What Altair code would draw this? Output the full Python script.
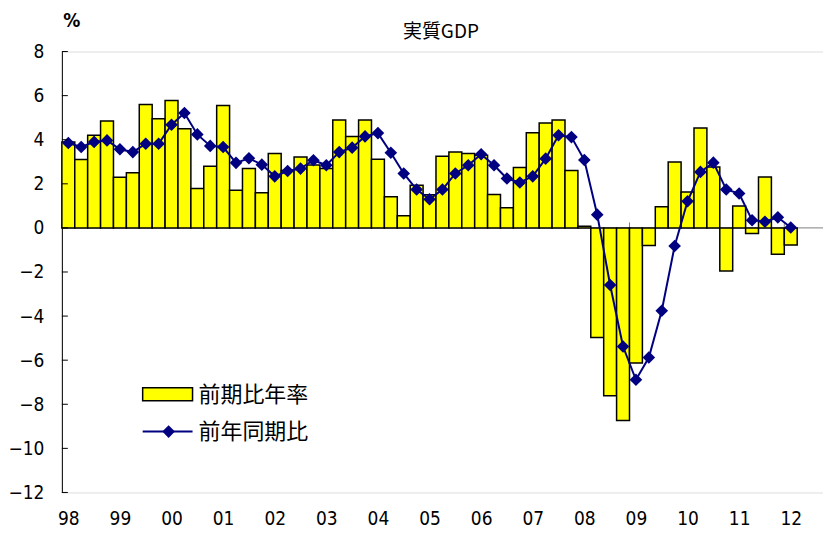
import altair as alt
import pandas as pd

# ---- data (quarterly, 1998Q1 .. 2012Q1) ----
year_labels = ["98", "99", "00", "01", "02", "03", "04", "05", "06", "07", "08", "09", "10", "11", "12"]

qoq_annualized = [
    3.9, 3.1, 4.2, 4.85,      # 98
    2.3, 2.5, 5.6, 4.95,      # 99
    5.78, 4.5, 1.79, 2.8,     # 00
    5.55, 1.71, 2.69, 1.6,    # 01
    3.37, 2.6, 3.22, 2.85,    # 02
    2.7, 4.9, 4.15, 4.9,      # 03
    3.11, 1.41, 0.55, 1.94,   # 04
    1.5, 3.25, 3.44, 3.37,    # 05
    3.3, 1.51, 0.91, 2.74,    # 06
    4.32, 4.76, 4.9, 2.6,     # 07
    0.08, -4.97, -7.61, -8.74,  # 08
    -6.13, -0.8, 0.96, 2.99,  # 09
    1.63, 4.53, 2.76, -1.95,  # 10
    0.99, -0.25, 2.31, -1.19,  # 11
    -0.78,                    # 12
]

yoy = [
    3.85, 3.67, 3.9, 3.97,
    3.57, 3.44, 3.82, 3.82,
    4.68, 5.21, 4.24, 3.72,
    3.67, 2.95, 3.16, 2.87,
    2.34, 2.58, 2.69, 3.07,
    2.84, 3.44, 3.64, 4.15,
    4.3, 3.41, 2.47, 1.74,
    1.3, 1.74, 2.47, 2.84,
    3.34, 2.84, 2.24, 2.06,
    2.34, 3.14, 4.2, 4.12,
    3.08, 0.6, -2.59, -5.38,
    -6.89, -5.88, -3.76, -0.82,
    1.21, 2.54, 2.96, 1.74,
    1.56, 0.35, 0.28, 0.48,
    0.02,
]

y_ticks = [-12, -10, -8, -6, -4, -2, 0, 2, 4, 6, 8]
legend_labels = ["前期比年率", "前年同期比"]
title_text = "実質GDP"
unit_text = "%"

NUM_FONT = "Liberation Sans Narrow, DejaVu Sans Condensed, Noto Sans CJK JP"
JP_FONT = "Noto Sans CJK JP"
NAVY = "#000080"

W, H = 763, 442

df = pd.DataFrame({"i": list(range(len(qoq_annualized))), "qoq": qoq_annualized, "yoy": yoy})

x_scale = alt.Scale(domain=[-0.5, 58.5], nice=False, zero=False)
y_scale = alt.Scale(domain=[-12, 8], nice=False, zero=False)

label_expr = "[" + ",".join("'%s'" % s for s in year_labels) + "][floor(datum.value / 4)]"

x_axis = alt.Axis(
    values=[4 * k for k in range(len(year_labels))],
    labelExpr=label_expr,
    domain=False, ticks=False, grid=False,
    labelFont=NUM_FONT, labelFontSize=19, labelColor="black",
    labelPadding=17, title=None, labelFlush=False,
)
y_axis = alt.Axis(
    values=y_ticks, domain=True, domainColor="black", domainWidth=1,
    ticks=False, grid=False, labelFont=NUM_FONT, labelFontSize=19,
    labelColor="black", labelPadding=18, title=None,
)

# zero line (category axis crossing)
zero_line = alt.Chart(pd.DataFrame({"v": [0]})).mark_rule(color="#808080", strokeWidth=1).encode(
    y=alt.Y("v:Q", scale=y_scale, axis=y_axis),
    x=alt.value(0), x2=alt.value(W + 6),
)

# year boundary ticks on the zero line
bounds = pd.DataFrame({"b": [4 * k - 0.5 for k in range(len(year_labels))]})
bound_ticks = alt.Chart(bounds).mark_rule(color="#808080", strokeWidth=1).encode(
    x=alt.X("b:Q", scale=x_scale, axis=x_axis),
    y=alt.datum(0), y2=alt.datum(0.25),
)

bars = alt.Chart(df).transform_calculate(
    x0="datum.i - 0.5", x1="datum.i + 0.5"
).mark_bar(fill="#ffff00", stroke="black", strokeWidth=1.5).encode(
    x=alt.X("x0:Q", scale=x_scale, title=None),
    x2="x1:Q",
    y=alt.Y("qoq:Q", scale=y_scale, title=None),
    y2=alt.datum(0),
)

line = alt.Chart(df).mark_line(color=NAVY, strokeWidth=2).encode(
    x=alt.X("i:Q", scale=x_scale, title=None),
    y=alt.Y("yoy:Q", scale=y_scale, title=None),
)
points = alt.Chart(df).mark_point(shape="diamond", filled=True, size=160, color=NAVY, opacity=1).encode(
    x=alt.X("i:Q", scale=x_scale, title=None),
    y=alt.Y("yoy:Q", scale=y_scale, title=None),
)

# inward y ticks
yt = alt.Chart(pd.DataFrame({"v": y_ticks})).mark_rule(color="black", strokeWidth=1).encode(
    y=alt.Y("v:Q", scale=y_scale, title=None),
    x=alt.value(0), x2=alt.value(6),
)

# title and unit
title_mark = alt.Chart(pd.DataFrame({"t": [title_text]})).mark_text(
    font=JP_FONT, fontSize=19, color="black", align="center", baseline="middle"
).encode(text="t:N", x=alt.value(380), y=alt.value(-20))

unit_mark = alt.Chart(pd.DataFrame({"t": [unit_text]})).mark_text(
    font=NUM_FONT, fontSize=19, fontWeight="bold", color="black", align="center", baseline="middle"
).encode(text="t:N", x=alt.value(10), y=alt.value(-31))

# legend
leg_rect = alt.Chart(pd.DataFrame({"k": [0]})).mark_rect(
    fill="#ffff00", stroke="black", strokeWidth=1.5
).encode(x=alt.value(81), x2=alt.value(131), y=alt.value(337), y2=alt.value(350))
leg_line = alt.Chart(pd.DataFrame({"k": [0]})).mark_rule(color=NAVY, strokeWidth=2).encode(
    x=alt.value(81), x2=alt.value(131), y=alt.value(381)
)
leg_pt = alt.Chart(pd.DataFrame({"k": [0]})).mark_point(
    shape="diamond", filled=True, size=160, color=NAVY, opacity=1
).encode(x=alt.value(107), y=alt.value(381))
leg_text = alt.Chart(pd.DataFrame({"t": legend_labels, "yy": [344, 381]})).mark_text(
    font=JP_FONT, fontSize=22, color="black", align="left", baseline="middle"
).encode(text="t:N", x=alt.value(137), y=alt.Y("yy:Q", scale=None))

chart = alt.layer(
    zero_line, bound_ticks, bars, line, points, yt,
    title_mark, unit_mark, leg_rect, leg_line, leg_pt, leg_text,
).properties(
    width=W, height=H,
    autosize=alt.AutoSizeParams(type="none"),
    padding={"left": 54, "top": 43, "right": 0, "bottom": 40},
).configure_view(stroke=None).configure(background="white")

chart.save("out.html", embed_options={"renderer": "svg", "actions": False})
